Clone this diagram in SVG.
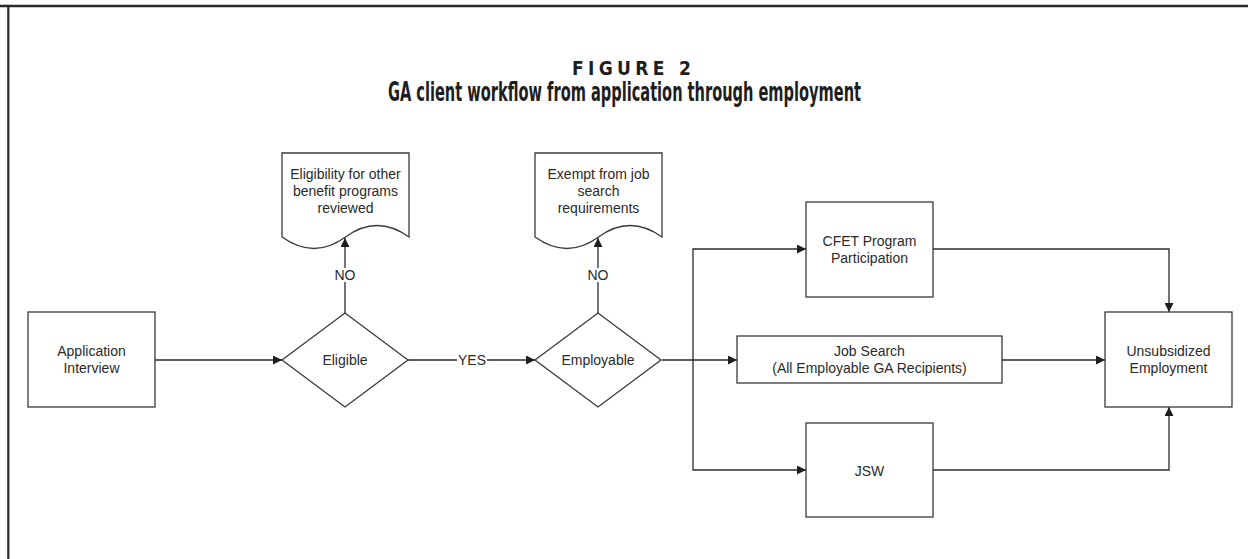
<svg xmlns="http://www.w3.org/2000/svg" width="1248" height="559" viewBox="0 0 1248 559">
<style>
.box{fill:#fff;stroke:#3a3a3a;stroke-width:1.3}
.conn{fill:none;stroke:#2a2a2a;stroke-width:1.3}
.t{font-family:"Liberation Sans",Arial,sans-serif;font-size:14px;fill:#2a2a2a;text-anchor:middle}
.title{font-family:"Liberation Sans Narrow","DejaVu Sans Condensed","Liberation Sans",sans-serif;font-weight:bold;fill:#1e1e1e;font-stretch:condensed}
</style>
<defs>
<marker id="arr" viewBox="0 0 10 10" refX="10" refY="5" markerWidth="10" markerHeight="9" markerUnits="userSpaceOnUse" orient="auto">
<path d="M0,0 L10,5 L0,10 Z" fill="#1e1e1e"/>
</marker>
</defs>
<rect width="1248" height="559" fill="#fff"/>
<g id="frame">
<line x1="0" y1="6" x2="1248" y2="6" stroke="#2a2a2a" stroke-width="2.6"/>
<line x1="8.3" y1="6" x2="8.3" y2="559" stroke="#2a2a2a" stroke-width="2.2"/>
</g>
<g id="title">
<text class="title" x="572" y="75" font-size="19" textLength="119" lengthAdjust="spacing">FIGURE 2</text>
<text class="title" x="388" y="101" font-size="26" textLength="473" lengthAdjust="spacingAndGlyphs">GA client workflow from application through employment</text>
</g>
<g id="connectors">
<path class="conn" d="M155,360 H282" marker-end="url(#arr)"/>
<path class="conn" d="M345,313 V238" marker-end="url(#arr)"/>
<path class="conn" d="M408,360 H535" marker-end="url(#arr)"/>
<path class="conn" d="M598,313 V238" marker-end="url(#arr)"/>
<path class="conn" d="M662,360 H737" marker-end="url(#arr)"/>
<path class="conn" d="M693,360 V249 H806" marker-end="url(#arr)"/>
<path class="conn" d="M693,360 V470 H806" marker-end="url(#arr)"/>
<path class="conn" d="M933,249 H1169 V312" marker-end="url(#arr)"/>
<path class="conn" d="M1002,360 H1105" marker-end="url(#arr)"/>
<path class="conn" d="M933,470 H1169 V407" marker-end="url(#arr)"/>
<rect x="333" y="268" width="24" height="14" fill="#fff"/>
<text class="t" x="345" y="280">NO</text>
<rect x="586" y="268" width="24" height="14" fill="#fff"/>
<text class="t" x="598" y="280">NO</text>
<rect x="457" y="352" width="30" height="14" fill="#fff"/>
<text class="t" x="472" y="365">YES</text>
</g>
<g id="application">
<rect class="box" x="28" y="312" width="127" height="95"/>
<text class="t" x="91.5" y="356">Application</text>
<text class="t" x="91.5" y="373">Interview</text>
</g>
<g id="eligible">
<path class="box" d="M282,360 L345,313 L408,360 L345,407 Z"/>
<text class="t" x="345" y="365">Eligible</text>
</g>
<g id="other-benefits">
<path class="box" d="M282,153 H409 V237 C388,222 366,222 345.5,237 C325,252 303,252 282,237 Z"/>
<text class="t" x="345.5" y="179">Eligibility for other</text>
<text class="t" x="345.5" y="196">benefit programs</text>
<text class="t" x="345.5" y="213">reviewed</text>
</g>
<g id="employable">
<path class="box" d="M535,360 L598,313 L661,360 L598,407 Z"/>
<text class="t" x="598" y="365">Employable</text>
</g>
<g id="exempt">
<path class="box" d="M535,153 H662 V237 C641,222 619,222 598.5,237 C578,252 556,252 535,237 Z"/>
<text class="t" x="598.5" y="179">Exempt from job</text>
<text class="t" x="598.5" y="196">search</text>
<text class="t" x="598.5" y="213">requirements</text>
</g>
<g id="cfet">
<rect class="box" x="806" y="202" width="127" height="95"/>
<text class="t" x="869.5" y="246">CFET Program</text>
<text class="t" x="869.5" y="263">Participation</text>
</g>
<g id="job-search">
<rect class="box" x="737" y="336" width="265" height="47"/>
<text class="t" x="869.5" y="356">Job Search</text>
<text class="t" x="869.5" y="373">(All Employable GA Recipients)</text>
</g>
<g id="jsw">
<rect class="box" x="806" y="423" width="127" height="94"/>
<text class="t" x="869.5" y="476">JSW</text>
</g>
<g id="unsubsidized">
<rect class="box" x="1105" y="312" width="127" height="95"/>
<text class="t" x="1168.5" y="356">Unsubsidized</text>
<text class="t" x="1168.5" y="373">Employment</text>
</g>
</svg>
